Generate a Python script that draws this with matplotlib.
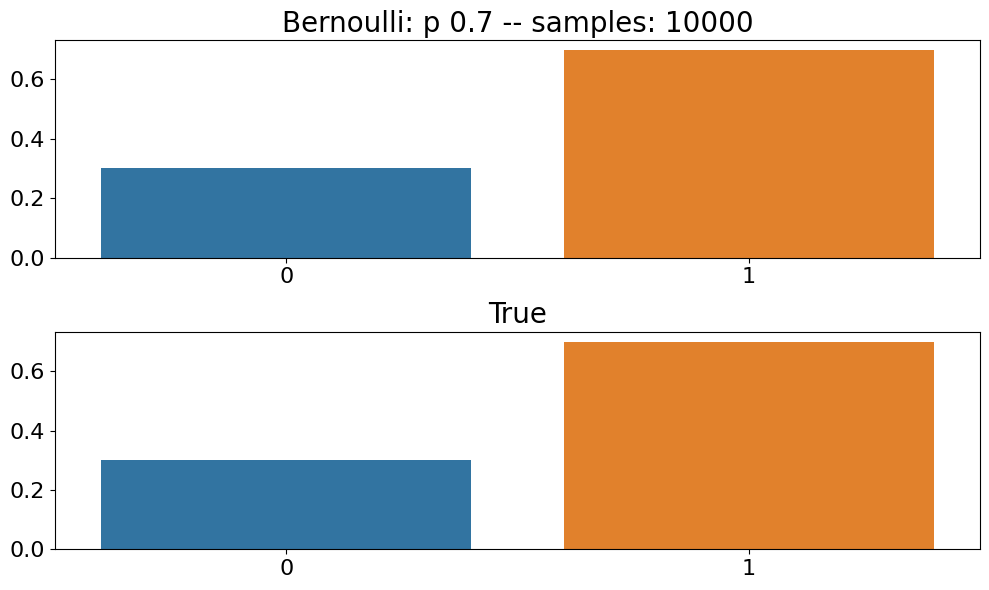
import matplotlib
matplotlib.use("Agg")
from matplotlib import pyplot as plt

outcomes = ["0", "1"]
sampled = [0.3027, 0.6973]
true_probs = [0.3, 0.7]
bar_colors = ["#3274a1", "#e1812c"]

fig, axes = plt.subplots(2, 1, figsize=(9.89, 5.9), dpi=100)

panels = [("Bernoulli: p 0.7 -- samples: 10000", sampled), ("True", true_probs)]
for ax, (title, vals) in zip(axes, panels):
    x = list(range(len(outcomes)))
    ax.bar(x, vals, width=0.8, color=bar_colors)
    ax.set_xticks(x)
    ax.set_xticklabels(outcomes)
    ax.set_xlim(-0.5, len(outcomes) - 0.5)
    ax.set_title(title, fontsize=20)
    ax.tick_params(labelsize=16)

fig.subplots_adjust(left=0.0556, right=0.991, top=0.932, bottom=0.0695, hspace=0.34)
plt.savefig("out.png")
